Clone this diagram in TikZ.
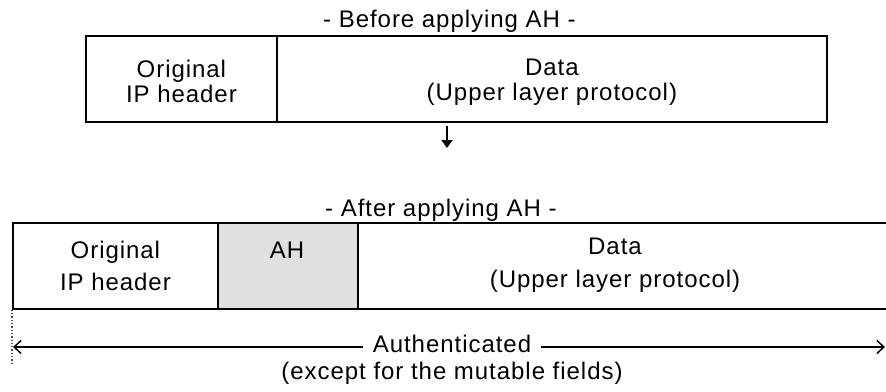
\documentclass[tikz,border=0pt]{standalone}
\usepackage{fontspec}
\setmainfont{Liberation Sans}[LetterSpace=4]
\usetikzlibrary{arrows.meta,calc}

\tikzset{
  field/.style={draw=black, line width=1.8pt, rectangle, inner sep=0pt,
                anchor=north west, minimum height=86pt},
  ahfield/.style={field, fill=black!12},
  caption/.style={font=\fontsize{24}{32.5}\selectfont, inner sep=0pt},
  tightlabel/.style={font=\fontsize{24}{25}\selectfont, inner sep=0pt, align=center},
  widelabel/.style={font=\fontsize{24}{32.5}\selectfont, inner sep=0pt, align=center}
}

\begin{document}
\begin{tikzpicture}[x=1pt, y=-1pt]
  \useasboundingbox (0,0) rectangle (886,391);

  % --- packet before AH is inserted ---
  \node[caption, anchor=base west] (before) at (323,27) {- Before applying AH -};
  \node[field, minimum width=191pt] (bip) at (85,35) {};
  \node[field, minimum width=550pt] (bdata) at (276,35) {};
  \node[tightlabel, yshift=-3pt] (biptxt) at (bip.center) {Original\\IP header};
  \node[tightlabel, yshift=-3pt] (bdatatxt) at (bdata.center) {Data\\(Upper layer protocol)};

  % --- transformation arrow ---
  \coordinate (dnA) at (447,126);
  \coordinate (dnB) at (447,148);
  \draw[line width=2.8pt, -{Triangle[length=8pt,width=11pt]}] (dnA) -- (dnB);

  % --- packet after AH is inserted ---
  \node[caption, anchor=base west] (after) at (325,216) {- After applying AH -};
  \node[field, minimum width=205pt] (aip) at (12,222) {};
  \node[ahfield, minimum width=140pt] (ah) at (217,222) {};
  \node[field, minimum width=533pt] (adata) at (357,222) {};
  \node[widelabel] (aiptxt) at (aip.center) {Original\\IP header};
  \node[caption, anchor=base] (ahtxt) at (287,258) {AH};
  \node[widelabel] (adatatxt) at (615,265) {Data\\(Upper layer protocol)};

  % --- authenticated span ---
  \draw[dotted, line width=1.3pt, black!70] (aip.south west) -- ++(0,54) coordinate (dotend);
  \node[caption, inner xsep=10pt] (auth) at (452,344) {Authenticated};
  \node[caption] (except) at (452,373) {(except for the mutable fields)};
  \coordinate (spanL) at (13,347);
  \coordinate (spanR) at (885,347);
  \draw[line width=1.5pt, {Straight Barb[length=7pt,width=13pt]}-] (spanL) -- (spanL -| auth.west);
  \draw[line width=1.5pt, -{Straight Barb[length=7pt,width=13pt]}] (spanR -| auth.east) -- (spanR);
\end{tikzpicture}
\end{document}
